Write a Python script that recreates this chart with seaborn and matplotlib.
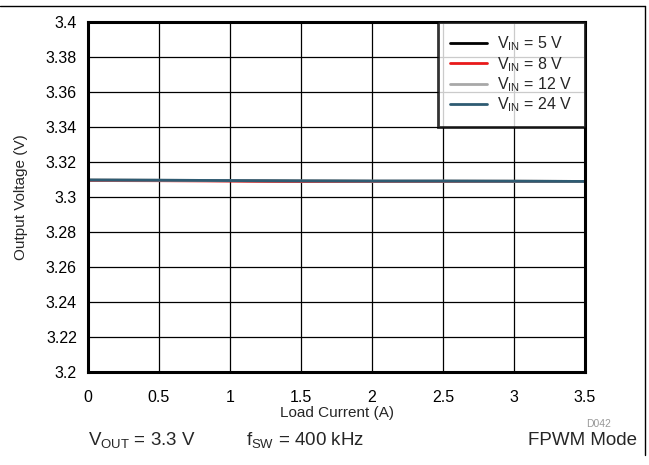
import numpy as np
import pandas as pd
import matplotlib
matplotlib.use("Agg")
import matplotlib.pyplot as plt
from matplotlib.lines import Line2D
import seaborn as sns

load_current = [0.0, 0.5, 1.0, 1.5, 2.0, 2.5, 3.0, 3.5]
vout_5v = [3.3096, 3.3095, 3.3093, 3.3091, 3.3090, 3.3090, 3.3090, 3.3089]
vout_8v = [3.3094, 3.3093, 3.3091, 3.3088, 3.3088, 3.3089, 3.3089, 3.3089]
vout_12v = [3.3097, 3.3096, 3.3094, 3.3092, 3.3091, 3.3091, 3.3090, 3.3089]
vout_24v = [3.3097, 3.3096, 3.3094, 3.3092, 3.3091, 3.3091, 3.3090, 3.3089]
series_labels = ["$V_{IN}$ = 5 V", "$V_{IN}$ = 8 V", "$V_{IN}$ = 12 V", "$V_{IN}$ = 24 V"]
series_colors = ["#000000", "#E8191A", "#A8A8A8", "#2E5B72"]

sns.set_style("white")
plt.rcParams['font.family'] = ['Liberation Sans', 'DejaVu Sans']
plt.rcParams['mathtext.fontset'] = 'custom'
plt.rcParams['mathtext.rm'] = 'Liberation Sans'
plt.rcParams['mathtext.it'] = 'Liberation Sans'

frames = []
for lab, vals in zip(series_labels, [vout_5v, vout_8v, vout_12v, vout_24v]):
    frames.append(pd.DataFrame({"I": load_current, "V": vals, "s": lab}))
df = pd.concat(frames, ignore_index=True)

fig = plt.figure(figsize=(6.49, 4.65), dpi=100)
ax = fig.add_axes([88/649, 1-372/465, (585-88)/649, (372-22)/465])

sns.lineplot(data=df, x="I", y="V", hue="s", palette=dict(zip(series_labels, series_colors)),
             hue_order=series_labels, linewidth=2, ax=ax, legend=True)

ax.set_xlim(0, 3.5)
ax.set_ylim(3.2, 3.4)
ax.set_xticks(np.arange(0, 3.51, 0.5))
ax.set_xticklabels(["0", "0.5", "1", "1.5", "2", "2.5", "3", "3.5"])
yt = np.round(np.arange(3.2, 3.4001, 0.02), 2)
ax.set_yticks(yt)
ax.set_yticklabels([("%g" % v) for v in yt])
ax.grid(True, color="#000000", linewidth=0.9)
ax.set_axisbelow(True)
for s in ax.spines.values():
    s.set_linewidth(2.2)
    s.set_color("black")
ax.tick_params(axis="both", length=0, labelsize=11.5, colors="black")
ax.tick_params(axis="y", pad=8)
ax.tick_params(axis="x", pad=13)
ax.set_xlabel("Load Current (A)", fontsize=11, labelpad=1)
ax.set_ylabel("Output Voltage (V)", fontsize=11)
ax.yaxis.set_label_coords(-(88-28)/497, 0.5)

leg = ax.legend(loc="upper right", fontsize=11.5, frameon=True, fancybox=False,
                borderaxespad=0, handlelength=2.3, labelspacing=0.1, borderpad=0.8,
                handletextpad=0.6)
leg.get_frame().set_edgecolor("black")
leg.get_frame().set_linewidth(2)
for h in leg.get_lines():
    h.set_linewidth(2)

fig.text(142/649, 1-440/465, "$V_{OUT}$ = 3.3 V", fontsize=13.5, ha="center", va="center")
fig.text(305/649, 1-440/465, "$f_{SW}$ = 400 kHz", fontsize=13.5, ha="center", va="center")
fig.text(637/649, 1-440/465, "FPWM Mode", fontsize=13.5, ha="right", va="center")
fig.text(611/649, 1-424/465, "D042", fontsize=7.5, ha="right", va="center", color="#999999")

fig.add_artist(Line2D([0, 645/649], [1-6/465, 1-6/465], color="black", linewidth=1, transform=fig.transFigure))
fig.add_artist(Line2D([645/649, 645/649], [1-6/465, 1-455/465], color="black", linewidth=1, transform=fig.transFigure))

fig.savefig("out.png", dpi=100)
